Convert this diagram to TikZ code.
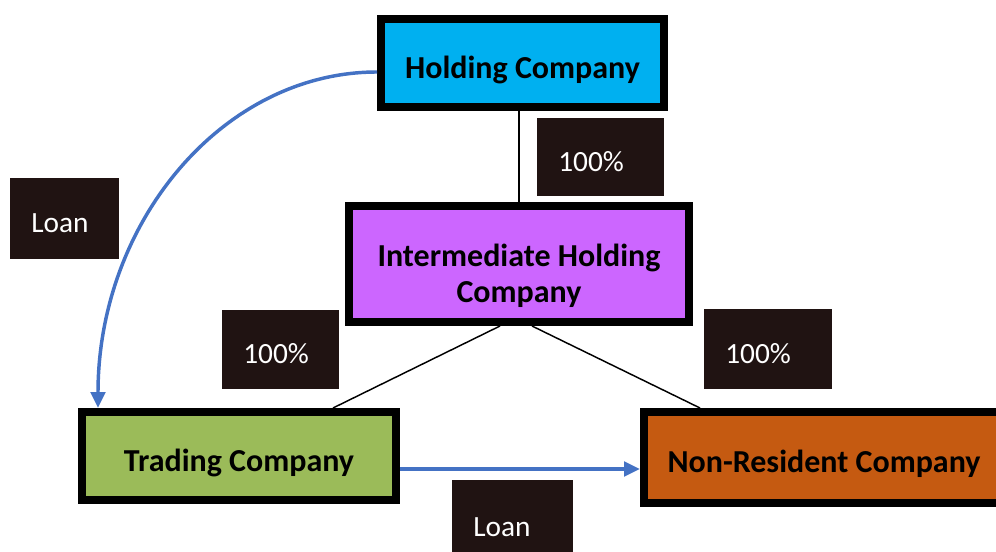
\documentclass[tikz,border=0pt]{standalone}
\usepackage{fontspec}
\setmainfont{Carlito}
\usepackage{tikz}
\usetikzlibrary{arrows.meta,backgrounds,calc}

\definecolor{holdcol}{HTML}{00B0F0}
\definecolor{midcol}{HTML}{CC66FF}
\definecolor{tradecol}{HTML}{9BBB59}
\definecolor{foreigncol}{HTML}{C55A11}
\definecolor{sharecol}{HTML}{201312}
\definecolor{loancol}{HTML}{4472C4}

\begin{document}
\begin{tikzpicture}[x=0.75pt, y=-0.75pt,
    company/.style={draw, line width=6pt, inner sep=0pt, align=center,
      text height=23pt, text depth=0pt,
      font=\fontsize{24}{27.5}\selectfont\bfseries},
    share/.style={fill=sharecol, text=white, inner xsep=16pt, inner ysep=0pt,
      align=left, text height=21.5pt, text depth=0pt,
      font=\fontsize{22}{26}\selectfont},
    loan/.style={draw=loancol, line width=2.6pt, -{Triangle[length=12pt,width=11pt]}}]
  \useasboundingbox (0,0) rectangle (996,552);

  \node[company, fill=holdcol, minimum width=212.25pt, minimum height=66pt] (hold) at (522.5,63) {Holding Company};
  \node[company, fill=midcol, minimum width=255pt, minimum height=87pt, text height=58.3pt] (mid) at (519,264) {Intermediate Holding\\Company};
  \node[company, fill=tradecol, minimum width=235.5pt, minimum height=66pt] (trade) at (239,456) {Trading Company};
  \node[company, fill=foreigncol, minimum width=270pt, minimum height=68.25pt] (foreign) at (824,457.5) {Non-Resident Company};

  \node[share, text width=63.25pt, minimum height=58.5pt] (s1) at (600.5,157) {100\%};
  \node[share, text width=55.75pt, minimum height=59.25pt] (s2) at (280.5,349.5) {100\%};
  \node[share, text width=64pt, minimum height=60pt] (s3) at (768,349) {100\%};
  \node[share, text width=49.75pt, minimum height=60.75pt] (l1) at (64.5,218.5) {Loan};
  \node[share, text width=58.75pt, minimum height=63pt] (l2) at (512.5,522) {Loan};

  % ownership
  \begin{scope}[on background layer]
    \path[line width=1.1pt]
      (hold.south -| mid.north) edge (mid.north)
      ($(mid.south)+(-19,0)$) edge ($(trade.north)+(94,0)$)
      ($(mid.south)+(13,0)$) edge ($(foreign.north)+(-124,0)$)
    ;
  \end{scope}

  % loans
  \draw[loan] ($(hold.west)+(0,9)$) .. controls +(-154,0) and +(0,-186) .. ($(trade.north west)+(20,0)$);
  \draw[loan] ($(trade.east)+(0,13)$) -- ($(foreign.west)+(0,11.5)$);
\end{tikzpicture}
\end{document}
